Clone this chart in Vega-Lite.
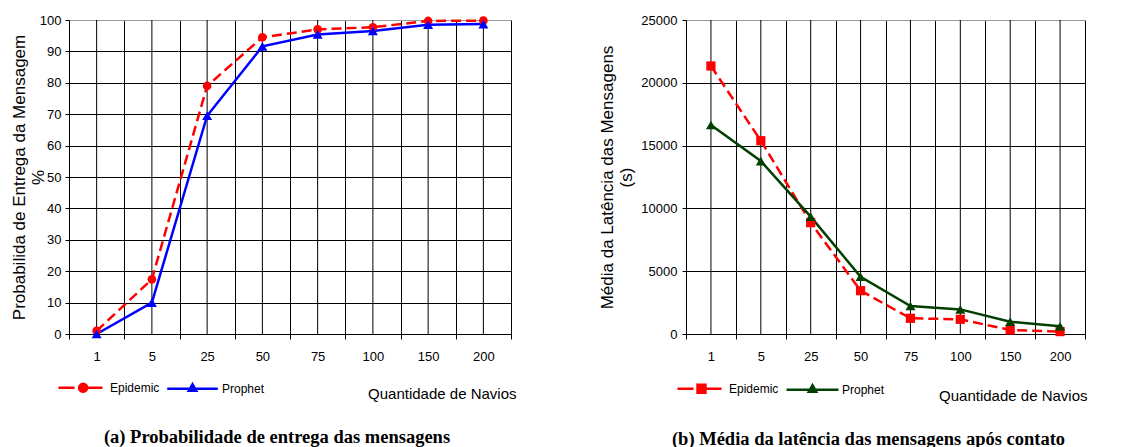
{
  "$schema": "https://vega.github.io/schema/vega-lite/v6.json",
  "padding": {"left": 9, "top": 13, "right": 0, "bottom": 0},
  "spacing": 80,
  "datasets": {
    "cats": [{"n": 1}, {"n": 5}, {"n": 25}, {"n": 50}, {"n": 75}, {"n": 100}, {"n": 150}, {"n": 200}],
    "entrega": [
      {"n": 1, "s": "Epidemic", "v": 1},
      {"n": 5, "s": "Epidemic", "v": 17.4},
      {"n": 25, "s": "Epidemic", "v": 79},
      {"n": 50, "s": "Epidemic", "v": 94.5},
      {"n": 75, "s": "Epidemic", "v": 97},
      {"n": 100, "s": "Epidemic", "v": 97.7},
      {"n": 150, "s": "Epidemic", "v": 99.7},
      {"n": 200, "s": "Epidemic", "v": 99.8},
      {"n": 1, "s": "Prophet", "v": 0},
      {"n": 5, "s": "Prophet", "v": 10},
      {"n": 25, "s": "Prophet", "v": 69.5},
      {"n": 50, "s": "Prophet", "v": 91.6},
      {"n": 75, "s": "Prophet", "v": 95.4},
      {"n": 100, "s": "Prophet", "v": 96.5},
      {"n": 150, "s": "Prophet", "v": 98.5},
      {"n": 200, "s": "Prophet", "v": 98.7}
    ],
    "latencia": [
      {"n": 1, "s": "Epidemic", "v": 21340},
      {"n": 5, "s": "Epidemic", "v": 15390},
      {"n": 25, "s": "Epidemic", "v": 8860},
      {"n": 50, "s": "Epidemic", "v": 3450},
      {"n": 75, "s": "Epidemic", "v": 1250},
      {"n": 100, "s": "Epidemic", "v": 1170},
      {"n": 150, "s": "Epidemic", "v": 320},
      {"n": 200, "s": "Epidemic", "v": 190},
      {"n": 1, "s": "Prophet", "v": 16640},
      {"n": 5, "s": "Prophet", "v": 13770},
      {"n": 25, "s": "Prophet", "v": 9340},
      {"n": 50, "s": "Prophet", "v": 4560},
      {"n": 75, "s": "Prophet", "v": 2230},
      {"n": 100, "s": "Prophet", "v": 1960},
      {"n": 150, "s": "Prophet", "v": 980},
      {"n": 200, "s": "Prophet", "v": 620}
    ]
  },
  "hconcat": [
    {
      "width": 442,
      "height": 314,
      "title": {"text": "(a) Probabilidade de entrega das mensagens", "orient": "bottom", "font": "Liberation Serif", "fontSize": 18.5, "fontWeight": "bold", "color": "#000", "offset": 27, "anchor": "middle", "frame": "group", "dx": -13},
      "encoding": {
        "x": {
          "field": "n", "type": "ordinal",
          "scale": {"type": "band", "paddingInner": 0, "paddingOuter": 0},
          "axis": {"title": "Quantidade de Navios", "tickBand": "extent", "grid": true, "gridColor": "#000", "labelAngle": 0, "labelFontSize": 13, "labelPadding": 11, "tickSize": 5, "tickColor": "#000", "domainColor": "#000", "titleFontSize": 15, "titleFontWeight": "normal", "titleX": 447, "titleY": 59, "titleAlign": "right", "titleBaseline": "middle"}
        },
        "y": {"field": "v", "type": "quantitative", "scale": {"domain": [0, 100], "nice": false},
          "axis": {"title": ["Probabilida de Entrega da Mensagem", "%"], "values": [0, 10, 20, 30, 40, 50, 60, 70, 80, 90, 100], "labelOverlap": false, "grid": true, "gridColor": {"condition": {"test": "datum.value == 100", "value": "#999"}, "value": "#000"}, "domainColor": "#000", "tickColor": "#000", "tickSize": 4, "labelPadding": 4, "labelFontSize": 13, "titleFontSize": 17, "titleFontWeight": "normal", "titleX": -45, "titleBaseline": "alphabetic", "titleLineHeight": 19}}
      },
      "layer": [
        {"data": {"name": "cats"}, "mark": {"type": "rule", "color": "#000", "strokeWidth": 1}, "encoding": {"y": null}},
        {
          "data": {"name": "entrega"},
          "transform": [{"filter": "datum.s === 'Epidemic'"}],
          "mark": {"type": "line", "strokeWidth": 2.5, "strokeDash": [10, 5]},
          "encoding": {
            "color": {"field": "s", "type": "nominal", "scale": {"domain": ["Epidemic", "Prophet"], "range": ["#FF0000", "#0000FF"]},
              "legend": {"orient": "none", "legendX": -12, "legendY": 344, "direction": "horizontal", "title": null, "symbolSize": 1936, "symbolStrokeWidth": 2.5, "labelFontSize": 12, "labelOffset": 6, "columnPadding": 2, "padding": 0, "labelColor": "#000",
                "encode": {"symbols": {"update": {
                  "shape": {"signal": "datum.value === 'Epidemic' ? 'M-1,0L-0.27,0M0.3,0L1,0M-0.06,0A0.18,0.18 0 1,0 0.3,0A0.18,0.18 0 1,0 -0.06,0Z' : 'M-1.15,0L1.15,0M0,-0.2L0.17,0.1L-0.17,0.1Z'"},
                  "fill": {"signal": "datum.value === 'Epidemic' ? '#FF0000' : '#0000FF'"},
                  "strokeDash": {"value": [1, 0]},
                  "strokeWidth": {"value": 2.5},
                  "size": {"value": 1936},
                  "opacity": {"value": 1}
                }}}}}
          }
        },
        {
          "data": {"name": "entrega"},
          "transform": [{"filter": "datum.s === 'Prophet'"}],
          "mark": {"type": "line", "strokeWidth": 2.5},
          "encoding": {
            "color": {"field": "s", "type": "nominal", "legend": null}
          }
        },
        {
          "data": {"name": "entrega"},
          "transform": [{"filter": "datum.s === 'Epidemic'"}],
          "mark": {"type": "point", "filled": true, "opacity": 1, "shape": "circle", "size": 75, "color": "#FF0000"}
        },
        {
          "data": {"name": "entrega"},
          "transform": [{"filter": "datum.s === 'Prophet'"}],
          "mark": {"type": "point", "filled": true, "opacity": 1, "shape": "triangle-up", "size": 100, "color": "#0000FF"}
        }
      ]
    },
    {
      "width": 399,
      "height": 314,
      "title": {"text": "(b) Média da latência das mensagens após contato", "orient": "bottom", "font": "Liberation Serif", "fontSize": 18.5, "fontWeight": "bold", "color": "#000", "offset": 27, "anchor": "middle", "frame": "group", "dx": -17},
      "encoding": {
        "x": {
          "field": "n", "type": "ordinal",
          "scale": {"type": "band", "paddingInner": 0, "paddingOuter": 0},
          "axis": {"title": "Quantidade de Navios", "tickBand": "extent", "grid": true, "gridColor": "#000", "labelAngle": 0, "labelFontSize": 13, "labelPadding": 11, "tickSize": 5, "tickColor": "#000", "domainColor": "#000", "titleFontSize": 15, "titleFontWeight": "normal", "titleX": 401, "titleY": 61, "titleAlign": "right", "titleBaseline": "middle"}
        },
        "y": {"field": "v", "type": "quantitative", "scale": {"domain": [0, 25000], "nice": false},
          "axis": {"title": ["Média da Latência das Mensagens", "(s)"], "values": [0, 5000, 10000, 15000, 20000, 25000], "format": "d", "grid": true, "gridColor": {"condition": {"test": "datum.value == 25000", "value": "#999"}, "value": "#000"}, "domainColor": "#000", "tickColor": "#000", "tickSize": 4, "labelPadding": 5, "labelFontSize": 13, "titleFontSize": 17, "titleFontWeight": "normal", "titleX": -74, "titleBaseline": "alphabetic", "titleLineHeight": 19}}
      },
      "layer": [
        {"data": {"name": "cats"}, "mark": {"type": "rule", "color": "#000", "strokeWidth": 1}, "encoding": {"y": null}},
        {
          "data": {"name": "latencia"},
          "transform": [{"filter": "datum.s === 'Epidemic'"}],
          "mark": {"type": "line", "strokeWidth": 2.5, "strokeDash": [10, 5]},
          "encoding": {
            "color": {"field": "s", "type": "nominal", "scale": {"domain": ["Epidemic", "Prophet"], "range": ["#FF0000", "#004000"]},
              "legend": {"orient": "none", "legendX": -10, "legendY": 345, "direction": "horizontal", "title": null, "symbolSize": 1936, "symbolStrokeWidth": 2.5, "labelFontSize": 12, "labelOffset": 6, "columnPadding": 2, "padding": 0, "labelColor": "#000",
                "encode": {"symbols": {"update": {
                  "shape": {"signal": "datum.value === 'Epidemic' ? 'M-1,0L-0.27,0M0.27,0L1,0M-0.09,-0.18L0.27,-0.18L0.27,0.18L-0.09,0.18Z' : 'M-1.18,0L1.18,0M0,-0.2L0.17,0.1L-0.17,0.1Z'"},
                  "fill": {"signal": "datum.value === 'Epidemic' ? '#FF0000' : '#004000'"},
                  "strokeDash": {"value": [1, 0]},
                  "strokeWidth": {"value": 2.5},
                  "size": {"value": 1936},
                  "opacity": {"value": 1}
                }}}}}
          }
        },
        {
          "data": {"name": "latencia"},
          "transform": [{"filter": "datum.s === 'Prophet'"}],
          "mark": {"type": "line", "strokeWidth": 2.5},
          "encoding": {
            "color": {"field": "s", "type": "nominal", "legend": null}
          }
        },
        {
          "data": {"name": "latencia"},
          "transform": [{"filter": "datum.s === 'Epidemic'"}],
          "mark": {"type": "point", "filled": true, "opacity": 1, "shape": "square", "size": 85, "color": "#FF0000"}
        },
        {
          "data": {"name": "latencia"},
          "transform": [{"filter": "datum.s === 'Prophet'"}],
          "mark": {"type": "point", "filled": true, "opacity": 1, "shape": "triangle-up", "size": 100, "color": "#004000"}
        }
      ]
    }
  ],
  "resolve": {"scale": {"color": "independent"}},
  "config": {
    "font": "Liberation Sans",
    "background": "white",
    "view": {"stroke": "#999"},
    "axis": {"labelColor": "#000", "titleColor": "#000", "labelFont": "Liberation Sans", "titleFont": "Liberation Sans"},
    "legend": {"labelFont": "Liberation Sans"}
  }
}
